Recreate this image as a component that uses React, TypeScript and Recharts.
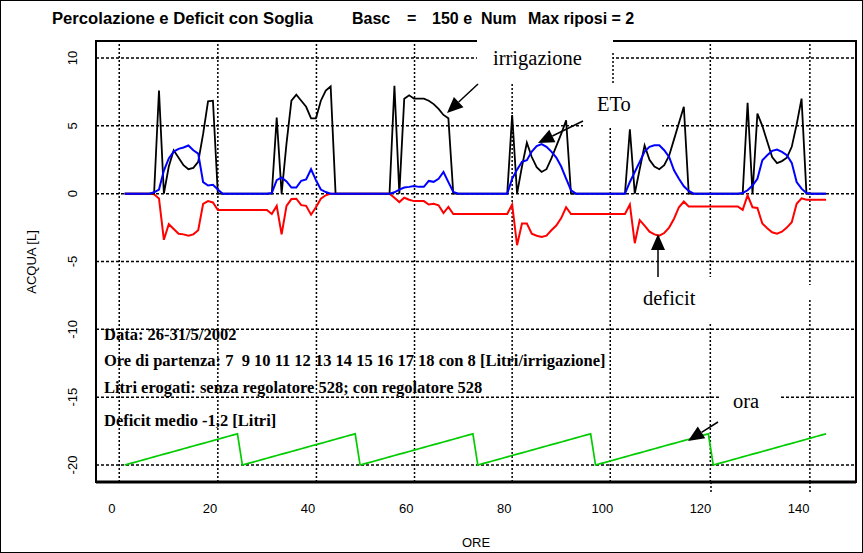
import { LineChart, Line, XAxis, YAxis, CartesianGrid, ReferenceLine } from 'recharts';

// hourly samples, one row of 24 values per day (26-31/5/2002)
const irrigazione = [
  0, 0, 0, 0, 0, 0, 0, 7.6, 0, 2.0, 3.2, 2.65, 2.1, 1.8, 1.9, 2.35, 4.4, 6.8, 6.85, 0, 0, 0, 0, 0,
  0, 0, 0, 0, 0, 0, 0, 5.6, 0, 3.7, 6.85, 7.3, 6.85, 6.4, 5.55, 5.55, 6.85, 7.6, 7.9, 0, 0, 0, 0, 0,
  0, 0, 0, 0, 0, 0, 0, 7.95, 0, 7.0, 7.25, 7.0, 7.0, 7.0, 6.85, 6.6, 6.25, 5.8, 5.55, 0, 0, 0, 0, 0,
  0, 0, 0, 0, 0, 0, 0, 5.8, 0, 2.0, 3.75, 2.7, 1.95, 1.6, 1.8, 2.6, 3.5, 4.4, 5.4, 0, 0, 0, 0, 0,
  0, 0, 0, 0, 0, 0, 0, 4.75, 0, 1.8, 3.55, 2.5, 2.0, 1.8, 2.1, 2.8, 4.0, 5.2, 6.4, 0, 0, 0, 0, 0,
  0, 0, 0, 0, 0, 0, 0, 6.7, 0, 5.9, 5.0, 3.85, 2.7, 2.25, 2.4, 2.65, 3.45, 5.1, 7.0, 0, 0, 0, 0, 0,
];

const eto = [
  0, 0, 0, 0, 0, 0, 0.1, 0.3, 1.7, 2.6, 3.1, 3.3, 3.4, 3.55, 3.2, 2.95, 0.85, 0.6, 0.65, 0.3, 0, 0, 0, 0,
  0, 0, 0, 0, 0, 0, 0.05, 1.0, 1.2, 0.9, 0.45, 0.45, 0.95, 1.05, 1.8, 1.0, 0.3, 0.12, 0, 0, 0, 0, 0, 0,
  0, 0, 0, 0, 0, 0, 0, 0.1, 0.3, 0.45, 0.5, 0.57, 0.5, 0.5, 0.94, 0.87, 1.1, 1.6, 0.85, 0.12, 0, 0, 0, 0,
  0, 0, 0, 0, 0, 0, 0, 1.1, 1.77, 2.35, 2.46, 3.1, 3.5, 3.65, 3.45, 3.1, 2.66, 2.0, 1.1, 0.25, 0, 0, 0, 0,
  0, 0, 0, 0, 0, 0, 0, 0.86, 1.6, 2.34, 3.1, 3.45, 3.57, 3.57, 3.2, 2.7, 1.72, 1.1, 0.54, 0.2, 0, 0, 0, 0,
  0, 0, 0, 0, 0, 0, 0.05, 0.25, 0.6, 1.1, 2.46, 2.83, 3.15, 3.25, 3.08, 2.83, 2.27, 0.86, 0.37, 0.05, 0, 0, 0, 0,
];

const deficit = [
  0, 0, 0, 0, 0, 0, -0.05, -0.35, -3.4, -2.25, -2.6, -2.95, -3.0, -3.1, -3.0, -2.7, -0.75, -0.55, -0.65, -1.2, -1.2, -1.2, -1.2, -1.2,
  -1.2, -1.2, -1.2, -1.2, -1.2, -1.2, -1.5, -0.9, -3.0, -0.9, -0.4, -0.37, -0.85, -0.9, -1.55, -1.0, -0.37, -0.12, 0, 0, 0, 0, 0, 0,
  0, 0, 0, 0, 0, 0, 0, -0.3, -0.62, -0.3, -0.45, -0.55, -0.55, -0.55, -0.8, -0.75, -0.86, -1.43, -0.98, -1.5, -1.5, -1.5, -1.5, -1.5,
  -1.5, -1.5, -1.5, -1.5, -1.5, -1.5, -1.5, -0.8, -3.8, -2.2, -2.2, -2.95, -3.1, -3.2, -3.1, -2.7, -2.35, -1.8, -1.0, -1.5, -1.5, -1.5, -1.5, -1.5,
  -1.5, -1.5, -1.5, -1.5, -1.5, -1.5, -1.5, -0.8, -3.65, -1.95, -2.35, -2.8, -3.0, -3.1, -2.9, -2.5, -1.85, -1.0, -0.58, -0.95, -0.95, -0.95, -0.95, -0.95,
  -0.95, -0.95, -0.95, -0.95, -0.95, -0.95, -1.2, -0.12, -1.0, -1.05, -2.2, -2.55, -2.85, -2.95, -2.8, -2.5, -2.1, -0.75, -0.35, -0.45, -0.45, -0.45, -0.45, -0.45,
];

// "ora" trace, same sawtooth every day
const oraGiorno = [
  -20, -19.9, -19.8, -19.7, -19.6, -19.5, -19.4, -19.3, -19.2, -19.1, -19.0, -18.9,
  -18.8, -18.7, -18.6, -18.5, -18.4, -18.3, -18.2, -18.1, -18.0, -17.9, -17.8, -17.7,
];

const primaOra = 2.6;
const xTicks = [0, 20, 40, 60, 80, 100, 120, 140];
const yTicks = [-20, -15, -10, -5, 0, 5, 10];
const grigliaOre = [1.5, 21.6, 41.7, 61.7, 81.6, 101.6, 122, 142.3];

const data = irrigazione.map((v, i) => ({
  ore: primaOra + i,
  irrigazione: v,
  eto: eto[i],
  deficit: deficit[i],
  ora: oraGiorno[i % 24],
}));

const sans = '"Liberation Sans", Arial, sans-serif';
const serif = '"Liberation Serif", "Times New Roman", serif';

const XTick = (props: any) => (
  <text x={props.x} y={513} textAnchor="middle" fontFamily={sans} fontSize={13} fill="#000">
    {props.payload.value}
  </text>
);

const YTick = (props: any) => (
  <text
    transform={`translate(72,${props.y}) rotate(-90)`}
    textAnchor="middle"
    dominantBaseline="central"
    fontFamily={sans}
    fontSize={13}
    fill="#000"
  >
    {props.payload.value}
  </text>
);

function Freccia({ x1, y1, x2, y2 }: { x1: number; y1: number; x2: number; y2: number }) {
  const len = Math.hypot(x2 - x1, y2 - y1);
  const ux = (x2 - x1) / len;
  const uy = (y2 - y1) / len;
  const bx = x2 - ux * 16;
  const by = y2 - uy * 16;
  const pts = `${x2},${y2} ${bx - uy * 7},${by + ux * 7} ${bx + uy * 7},${by - ux * 7}`;
  return (
    <g>
      <line x1={x1} y1={y1} x2={bx} y2={by} stroke="#000" strokeWidth={1.5} />
      <polygon points={pts} fill="#000" />
    </g>
  );
}

export default function App() {
  return (
    <div style={{ position: 'absolute', left: 0, top: 0, width: 863, height: 553, background: '#fff' }}>
      <LineChart width={863} height={553} data={data} margin={{ top: 41, right: 7, bottom: 0, left: 0 }}>
        <CartesianGrid vertical={false} stroke="#000" strokeDasharray="3 2" strokeWidth={1.5} />
        {grigliaOre.map((v) => (
          <ReferenceLine key={v} x={v} stroke="#000" strokeDasharray="2 2" strokeWidth={1.5} />
        ))}
        <XAxis
          dataKey="ore"
          type="number"
          domain={[-3.24, 151.7]}
          ticks={xTicks}
          interval={0}
          allowDataOverflow
          height={71}
          axisLine={false}
          tickLine={false}
          tick={<XTick />}
        />
        <YAxis
          type="number"
          domain={[-21.25, 11.25]}
          ticks={yTicks}
          interval={0}
          allowDataOverflow
          width={96}
          axisLine={false}
          tickLine={false}
          tick={<YTick />}
        />
        <Line dataKey="ora" stroke="#00cc00" strokeWidth={1.7} dot={false} isAnimationActive={false} />
        <Line dataKey="deficit" stroke="#ff0000" strokeWidth={2} dot={false} isAnimationActive={false} />
        <Line dataKey="irrigazione" stroke="#000" strokeWidth={1.8} dot={false} isAnimationActive={false} />
        <Line dataKey="eto" stroke="#0000ff" strokeWidth={2} dot={false} isAnimationActive={false} />
      </LineChart>

      <svg width={863} height={553} style={{ position: 'absolute', left: 0, top: 0, pointerEvents: 'none' }}>
        <rect x={0.5} y={0.5} width={862} height={552} fill="none" stroke="#000" strokeWidth={1} />
        <rect x={96} y={41} width={760} height={441} fill="none" stroke="#000" strokeWidth={2} />
        <line x1={96} y1={482} x2={856} y2={482} stroke="#000" strokeWidth={3} />
        <line x1={711} y1={482} x2={711} y2={494} stroke="#000" strokeDasharray="2 2" strokeWidth={1.5} />
        <line x1={810} y1={482} x2={810} y2={494} stroke="#000" strokeDasharray="2 2" strokeWidth={1.5} />

        {/* cut-outs behind the labels */}
        <rect x={477} y={38} width={136} height={45} fill="#fff" />
        <rect x={583} y={83} width={79} height={45} fill="#fff" />
        <rect x={632} y={277} width={84} height={46} fill="#fff" />
        <rect x={803} y={285} width={12} height={15} fill="#fff" />
        <rect x={720} y={386} width={60} height={30} fill="#fff" />
        <line x1={613} y1={53} x2={613} y2={83} stroke="#000" strokeDasharray="2 2" strokeWidth={1.5} />

        <text x={52} y={24} fontFamily={sans} fontWeight="bold" fontSize={16} textLength={261} lengthAdjust="spacingAndGlyphs">
          Percolazione e Deficit con Soglia
        </text>
        <text x={352} y={24} fontFamily={sans} fontWeight="bold" fontSize={16}>Basc</text>
        <text x={407} y={24} fontFamily={sans} fontWeight="bold" fontSize={16}>=</text>
        <text x={432} y={24} fontFamily={sans} fontWeight="bold" fontSize={16}>150 e</text>
        <text x={481} y={24} fontFamily={sans} fontWeight="bold" fontSize={16}>Num</text>
        <text x={528} y={24} fontFamily={sans} fontWeight="bold" fontSize={16}>Max riposi = 2</text>

        <text transform="translate(36,262) rotate(-90)" textAnchor="middle" fontFamily={sans} fontSize={13}>
          ACQUA [L]
        </text>
        <text x={476} y={547} textAnchor="middle" fontFamily={sans} fontSize={13}>ORE</text>

        <g fontFamily={serif} fontWeight="bold" fontSize={16.5}>
          <text x={104} y={340}>Data: 26-31/5/2002</text>
          <text x={104} y={366} style={{ whiteSpace: 'pre' }}>
            Ore di partenza: 7  9 10 11 12 13 14 15 16 17 18 con 8 [Litri/irrigazione]
          </text>
          <text x={104} y={393}>Litri erogati: senza regolatore 528; con regolatore 528</text>
          <text x={104} y={426}>Deficit medio -1,2 [Litri]</text>
        </g>

        <g fontFamily={serif} fontSize={20.5}>
          <text x={493} y={65}>irrigazione</text>
          <text x={597} y={111}>ETo</text>
          <text x={643} y={305}>deficit</text>
          <text x={733} y={408}>ora</text>
        </g>

        <Freccia x1={478} y1={84} x2={447} y2={113} />
        <Freccia x1={583} y1={121} x2={538} y2={143} />
        <Freccia x1={658} y1={277} x2={658} y2={234} />
        <Freccia x1={718} y1={422} x2={688} y2={441} />
      </svg>
    </div>
  );
}
